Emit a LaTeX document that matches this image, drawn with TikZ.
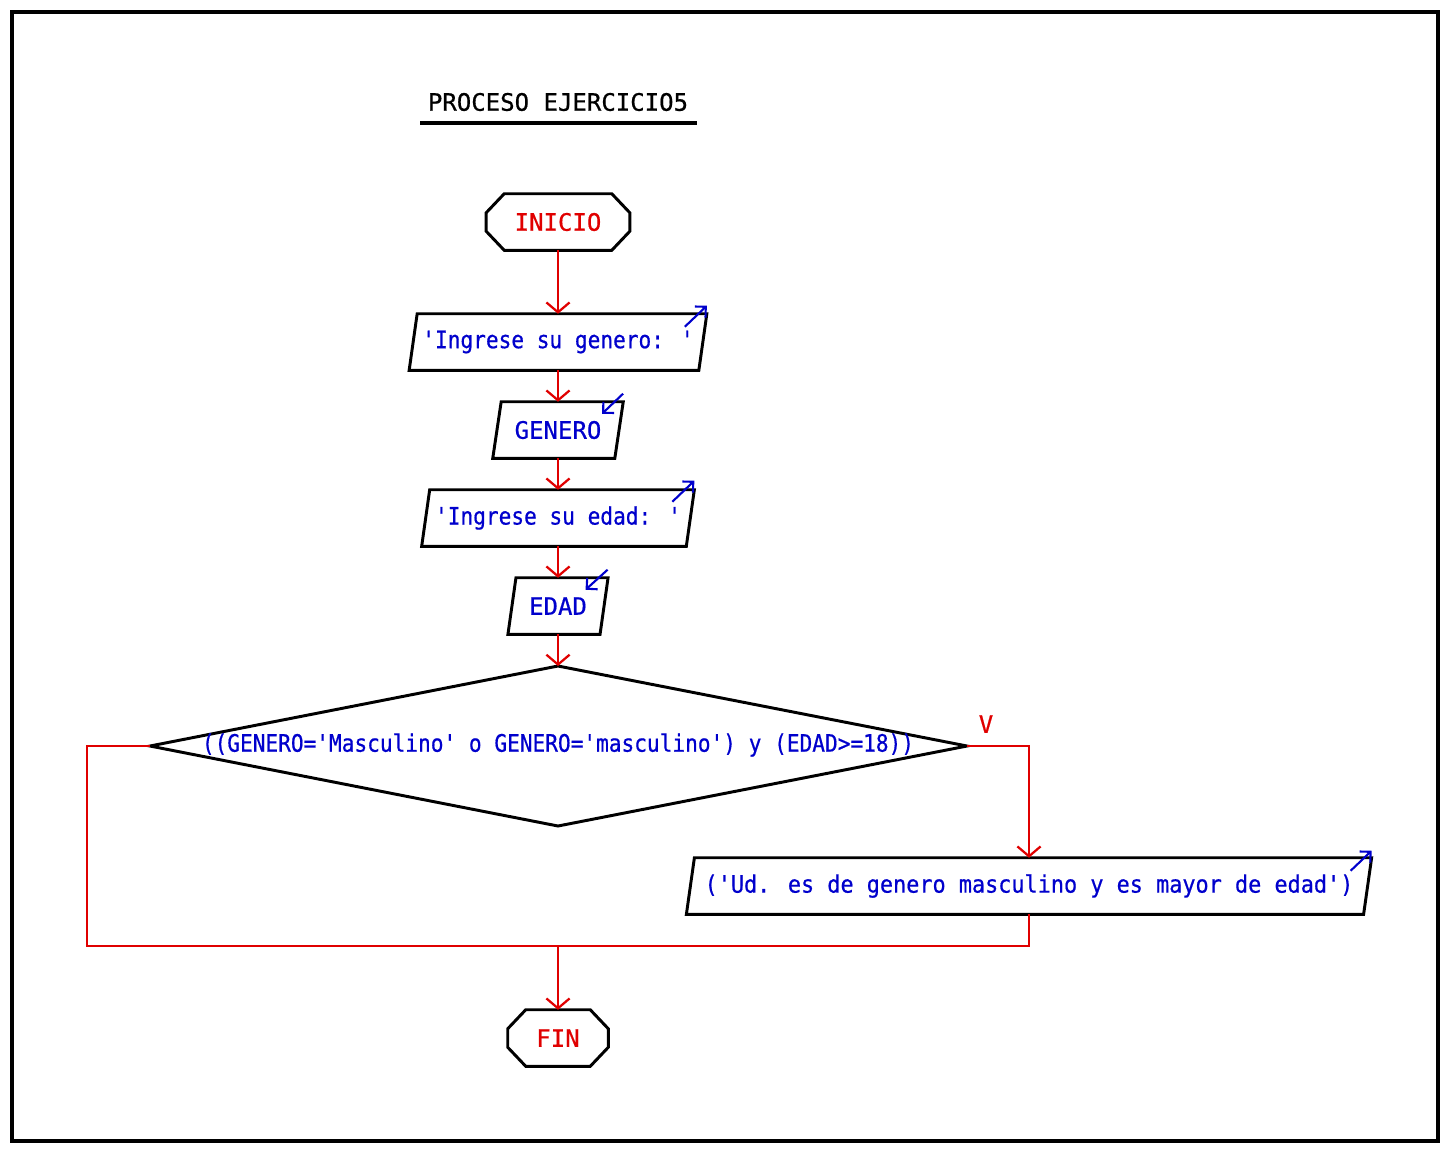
\documentclass[tikz,border=0pt]{standalone}
\usepackage{fontspec}
\newfontfamily\psf[FakeBold=0.6]{DejaVu Sans Mono}
\newfontfamily\psn[FakeStretch=0.88,FakeBold=0.6]{DejaVu Sans Mono}
\newfontfamily\psw[FakeStretch=0.91,FakeBold=0.6]{DejaVu Sans Mono}
\usetikzlibrary{arrows.meta}
\definecolor{psred}{RGB}{224,0,0}
\definecolor{psblue}{RGB}{0,0,204}
\newcommand\paral[2]{\draw[shapeline] ([xshift=#2]#1.north west) -- ([xshift=#2]#1.north east) -- ([xshift=-#2]#1.south east) -- ([xshift=-#2]#1.south west) -- cycle;}
\newcommand\octo[3]{\draw[shapeline] ([xshift=#2]#1.north west) -- ([xshift=-#2]#1.north east) -- ([yshift=-#3]#1.north east) -- ([yshift=#3]#1.south east) -- ([xshift=-#2]#1.south east) -- ([xshift=#2]#1.south west) -- ([yshift=#3]#1.south west) -- ([yshift=-#3]#1.north west) -- cycle;}
\begin{document}
\begin{tikzpicture}[x=0.025cm,y=-0.025cm,
  capstxt/.style={inner sep=0pt, font=\fontsize{17.07pt}{20pt}\psf},
  mixtxt/.style={inner sep=0pt, font=\fontsize{17.07pt}{20pt}\psn},
  widetxt/.style={inner sep=0pt, font=\fontsize{17.07pt}{20pt}\psw},
  shapeline/.style={draw=black, line width=2.1pt, line join=miter},
  oct/.style={rectangle, minimum height=39.8pt, inner sep=0pt, capstxt, text=psred},
  para/.style={rectangle, inner sep=0pt, minimum height=39.8pt, text=psblue},
  conn/.style={draw=psred, line width=1.8pt},
  arr/.style={conn, -{Straight Barb[length=7pt,width=16.5pt,line width=1.6pt]}},
  ioarr/.style={draw=psblue, line width=1.5pt, -{Straight Barb[length=5.5pt,width=11pt,line width=1.5pt]}}
]
\useasboundingbox (0,0) rectangle (1450,1153);
\draw[line width=2.2pt] (12,12) rectangle (1438,1141);

% title
\node[capstxt, text=black] (title) at (558,102) {PROCESO EJERCICIO5};
\draw[line width=2.9pt] (420,123) -- (697,123);

% nodes
\node[oct, minimum width=101.7pt] (inicio) at (558,222) {INICIO};
\node[para, mixtxt, minimum width=205.6pt] (in1) at (558,342) {'Ingrese su genero: '};
\node[para, capstxt, minimum width=86.4pt] (gen) at (558,430) {GENERO};
\node[para, mixtxt, minimum width=187.8pt] (in2) at (558,518) {'Ingrese su edad: '};
\node[para, capstxt, minimum width=65.1pt] (edad) at (558,606) {EDAD};
\node[para, widetxt, minimum width=481.2pt] (out) at (1029,886) {('Ud. es de genero masculino y es mayor de edad')};
\node[oct, minimum width=71.1pt] (fin) at (558,1038) {FIN};

\octo{inicio}{12.8pt}{13.5pt}
\octo{fin}{12.8pt}{13.5pt}
\paral{in1}{2.85pt}
\paral{gen}{3pt}
\paral{in2}{2.85pt}
\paral{edad}{2.85pt}
\paral{out}{2.85pt}

% decision diamond
\coordinate (dtop) at (558,666);
\coordinate (dright) at (967,746);
\coordinate (dbot) at (558,826);
\coordinate (dleft) at (150,746);
\draw[shapeline] (dtop) -- (dright) -- (dbot) -- (dleft) -- cycle;
\node[mixtxt, text=psblue] (cond) at (558,745) {((GENERO='Masculino' o GENERO='masculino') y (EDAD>=18))};
\node[capstxt, text=psred] (vlabel) at (986,724) {V};

% io arrows
\draw[ioarr] ([shift={(-18,13)}]in1.north east) -- ([shift={(4,-8)}]in1.north east);
\draw[ioarr] ([shift={(4,-8)}]gen.north east) -- ([shift={(-17,12)}]gen.north east);
\draw[ioarr] ([shift={(-18,12)}]in2.north east) -- ([shift={(4,-9)}]in2.north east);
\draw[ioarr] ([shift={(3.5,-8)}]edad.north east) -- ([shift={(-18.5,12)}]edad.north east);
\draw[ioarr] ([shift={(-17,13)}]out.north east) -- ([shift={(4,-7)}]out.north east);

% connectors
\draw[arr] (inicio.south) -- (in1.north);
\draw[arr] (in1.south) -- (gen.north);
\draw[arr] (gen.south) -- (in2.north);
\draw[arr] (in2.south) -- (edad.north);
\draw[arr] (edad.south) -- (dtop);
\coordinate (cl) at (87,746);
\coordinate (bl) at (87,946);
\coordinate (join) at (558,946);
\coordinate (br) at (1029,946);
\draw[arr] (dright) -| (out.north);
\draw[conn] (dleft) -- (cl) -- (bl) -- (br) -- (out.south);
\draw[arr] (join) -- (fin.north);
\end{tikzpicture}
\end{document}
